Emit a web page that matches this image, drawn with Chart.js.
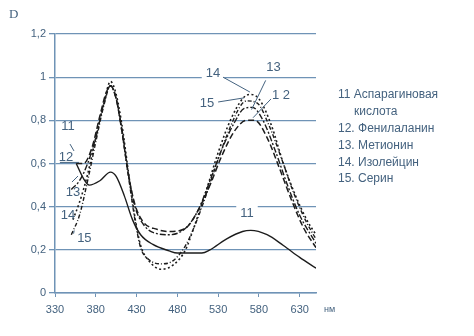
<!DOCTYPE html>
<html>
<head>
<meta charset="utf-8">
<script src="https://cdn.jsdelivr.net/npm/chart.js@4.4.1/dist/chart.umd.min.js"></script>
<style>
  html, body { margin: 0; padding: 0; background: #fff; }
  #wrap { position: relative; width: 474px; height: 336px; }
</style>
</head>
<body>
<div id="wrap"><canvas id="spectra"></canvas></div>
<script>
// Спектры поглощения аминокислот (D от длины волны, нм)

var xTicks = [330, 380, 430, 480, 530, 580, 630];
var yTickLabels = ["0", "0,2", "0,4", "0,6", "0,8", "1", "1,2"];

// 11 - аспарагиновая кислота
var nm11 = [356, 365, 372, 385, 398, 405, 415, 425, 435, 450, 470, 480, 510, 520, 540, 560, 570, 590, 610, 630, 650];
var d11  = [0.60, 0.53, 0.50, 0.52, 0.56, 0.54, 0.45, 0.34, 0.27, 0.225, 0.195, 0.185, 0.185, 0.20, 0.25, 0.285, 0.29, 0.27, 0.22, 0.165, 0.115];

// 12 - фенилаланин
var nm12 = [356, 365, 375, 385, 392, 398, 405, 412, 420, 428, 438, 455, 470, 490, 505, 520, 535, 550, 565, 575, 590, 605, 620, 635, 650];
var d12  = [0.60, 0.60, 0.67, 0.82, 0.92, 0.96, 0.90, 0.75, 0.55, 0.41, 0.33, 0.295, 0.285, 0.30, 0.38, 0.50, 0.64, 0.75, 0.80, 0.80, 0.72, 0.58, 0.43, 0.30, 0.21];

// 13 - метионин
var nm13 = [350, 360, 370, 380, 390, 398, 405, 412, 420, 428, 440, 455, 470, 490, 505, 520, 535, 550, 562, 572, 585, 600, 615, 630, 650];
var d13  = [0.48, 0.52, 0.60, 0.72, 0.88, 0.96, 0.90, 0.76, 0.55, 0.40, 0.31, 0.275, 0.27, 0.30, 0.38, 0.52, 0.67, 0.79, 0.855, 0.86, 0.80, 0.66, 0.50, 0.36, 0.23];

// 14 - изолейцин
var nm14 = [352, 360, 370, 380, 390, 398, 405, 412, 420, 428, 435, 445, 460, 475, 490, 500, 515, 530, 545, 560, 568, 580, 595, 610, 625, 640, 650];
var d14  = [0.34, 0.42, 0.55, 0.72, 0.88, 0.98, 0.92, 0.78, 0.56, 0.35, 0.22, 0.15, 0.11, 0.13, 0.20, 0.30, 0.47, 0.65, 0.80, 0.90, 0.92, 0.90, 0.78, 0.60, 0.45, 0.33, 0.27];

// 15 - серин
var nm15 = [350, 360, 370, 380, 390, 398, 405, 412, 420, 428, 435, 445, 460, 475, 490, 500, 515, 530, 545, 558, 565, 578, 592, 608, 622, 638, 650];
var d15  = [0.27, 0.36, 0.52, 0.70, 0.87, 0.96, 0.90, 0.75, 0.54, 0.34, 0.21, 0.155, 0.135, 0.15, 0.22, 0.30, 0.45, 0.62, 0.77, 0.87, 0.89, 0.88, 0.78, 0.62, 0.47, 0.33, 0.25];

var legendLines = ["11 Аспарагиновая", "кислота", "12. Фенилаланин", "13. Метионин", "14. Изолейцин", "15. Серин"];

// подписи кривых: текст, положение текста и выноска (в единицах осей)
var curveLabels = [
    { text: "11", at: [346, 0.77], from: [348.4, 0.69], to: [353.3, 0.658] },
    { text: "12", at: [343.5, 0.63], from: [336, 0.605], to: [359.4, 0.605] },
    { text: "13", at: [352, 0.468], from: [350.8, 0.514], to: [358.2, 0.542] },
    { text: "14", at: [346, 0.361] },
    { text: "15", at: [366, 0.255], from: [353.5, 0.29], to: [352.8, 0.275] },
    { text: "14", at: [523.7, 1.019], from: [536, 1.0], to: [569, 0.931], gap: true },
    { text: "13", at: [598, 1.043], from: [588.3, 0.985], to: [571, 0.85] },
    { text: "15", at: [516.4, 0.88], from: [530, 0.885], to: [561.7, 0.904] },
    { text: "1 2", at: [607, 0.917], from: [594.8, 0.899], to: [572.8, 0.812] },
    { text: "11", at: [565.4, 0.371], gap: true }
];

var inkColor = "#1c1c1c";
var gridColor = "#6f93b6";
var textColor = "#44627f";

function toPoints(xs, ys) {
    var pts = [];
    for (var i = 0; i < xs.length; i++) pts.push({ x: xs[i], y: ys[i] });
    return pts;
}

function curve(label, xs, ys, dash, width) {
    return {
        label: label,
        data: toPoints(xs, ys),
        borderColor: inkColor,
        borderWidth: width,
        borderDash: dash,
        pointRadius: 0,
        fill: false,
        cubicInterpolationMode: "monotone"
    };
}

var annotations = {
    id: "annotations",
    beforeDatasetsDraw: function(chart) {
        // просветы в линиях сетки под подписями
        var ctx = chart.ctx, xs = chart.scales.x, ys = chart.scales.y;
        ctx.save();
        ctx.fillStyle = "#fff";
        ctx.font = "13px 'Liberation Sans', Arial, sans-serif";
        curveLabels.forEach(function(l) {
            if (!l.gap) return;
            var px = xs.getPixelForValue(l.at[0]), py = ys.getPixelForValue(l.at[1]);
            var w = ctx.measureText(l.text).width + 8;
            ctx.fillRect(px - w / 2, py - 7, w, 14);
        });
        ctx.restore();
    },
    afterDraw: function(chart) {
        var ctx = chart.ctx, xs = chart.scales.x, ys = chart.scales.y;
        ctx.save();
        ctx.fillStyle = textColor;
        ctx.strokeStyle = textColor;
        ctx.lineWidth = 1;
        ctx.textAlign = "center";
        ctx.textBaseline = "middle";
        ctx.font = "13px 'Liberation Sans', Arial, sans-serif";
        curveLabels.forEach(function(l) {
            ctx.fillText(l.text, xs.getPixelForValue(l.at[0]), ys.getPixelForValue(l.at[1]));
            if (l.from) {
                ctx.beginPath();
                ctx.moveTo(xs.getPixelForValue(l.from[0]), ys.getPixelForValue(l.from[1]));
                ctx.lineTo(xs.getPixelForValue(l.to[0]), ys.getPixelForValue(l.to[1]));
                ctx.stroke();
            }
        });

        // легенда справа
        ctx.textAlign = "left";
        ctx.font = "12px 'Liberation Sans', Arial, sans-serif";
        var y = 95;
        legendLines.forEach(function(t, i) {
            ctx.fillText(t, i === 1 ? 354 : 338, y);
            y += 16.8;
        });

        // обозначения осей
        ctx.font = "13px 'Liberation Serif', 'Times New Roman', serif";
        ctx.fillText("D", 9, 15);
        ctx.font = "9px 'Liberation Sans', Arial, sans-serif";
        ctx.fillText("нм", 324, 310);
        ctx.restore();
    }
};

new Chart(document.getElementById("spectra"), {
    type: "line",
    data: {
        datasets: [
            curve("11", nm11, d11, [], 1.4),
            curve("12", nm12, d12, [6, 3], 1.5),
            curve("13", nm13, d13, [6, 2, 2, 2], 1.4),
            curve("14", nm14, d14, [2, 2.5], 1.6),
            curve("15", nm15, d15, [4, 2, 1, 2], 1.4)
        ]
    },
    options: {
        responsive: true,
        maintainAspectRatio: false,
        animation: false,
        layout: { padding: { left: 0, top: 34, right: 158, bottom: 0 } },
        plugins: { legend: { display: false }, tooltip: { enabled: false } },
        scales: {
            x: {
                type: "linear",
                min: 330,
                max: 650,
                afterBuildTicks: function(scale) {
                    scale.ticks = xTicks.map(function(v) { return { value: v }; });
                },
                afterFit: function(scale) { scale.height = 43; },
                grid: { drawOnChartArea: false, drawTicks: true, tickLength: 4, color: gridColor, lineWidth: 1 },
                border: { display: true, color: gridColor, width: 1.5 },
                ticks: {
                    color: textColor,
                    padding: 6,
                    maxRotation: 0,
                    font: { family: "'Liberation Sans', Arial, sans-serif", size: 11 }
                }
            },
            y: {
                min: 0,
                max: 1.2,
                afterFit: function(scale) { scale.width = 55; },
                grid: { color: gridColor, lineWidth: 1.3, drawTicks: true, tickLength: 6 },
                border: { display: true, color: gridColor, width: 1.5 },
                ticks: {
                    stepSize: 0.2,
                    color: textColor,
                    padding: 3,
                    font: { family: "'Liberation Sans', Arial, sans-serif", size: 11 },
                    callback: function(v) { return yTickLabels[Math.round(v / 0.2)]; }
                }
            }
        }
    },
    plugins: [annotations]
});
</script>
</body>
</html>
